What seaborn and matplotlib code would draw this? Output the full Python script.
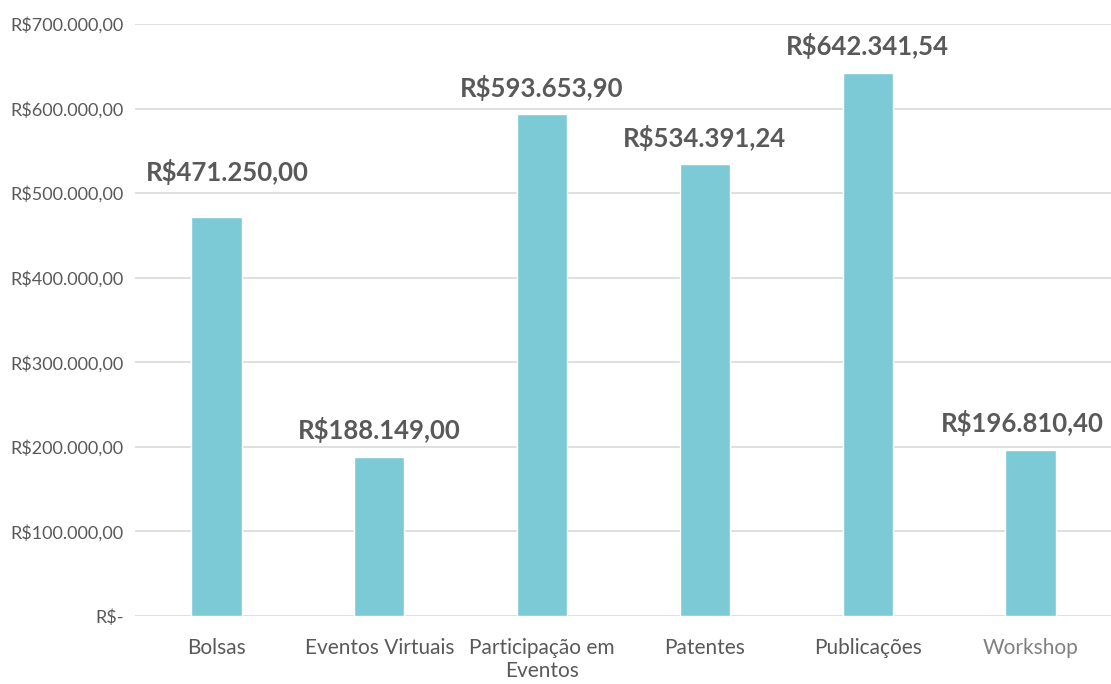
import pandas as pd
import matplotlib.pyplot as plt
import seaborn as sns
from matplotlib.ticker import FuncFormatter

categorias = ["Bolsas", "Eventos Virtuais", "Participação em\nEventos", "Patentes", "Publicações", "Workshop"]
valores = [471250.00, 188149.00, 593653.90, 534391.24, 642341.54, 196810.40]
yticks = [0, 100000, 200000, 300000, 400000, 500000, 600000, 700000]


def brl(v, pos=None):
    if v == 0:
        return "R$-"
    s = f"{v:,.2f}"
    return "R$" + s.replace(",", "X").replace(".", ",").replace("X", ".")


def main():
    df = pd.DataFrame({"categoria": categorias, "valor": valores})

    sns.set_style("white")
    plt.rcParams["font.family"] = ["Lato", "DejaVu Sans"]

    fig = plt.figure(figsize=(11.11, 6.84), dpi=100)
    ax = fig.add_axes([135 / 1111, 68 / 684, (1112 - 135) / 1111, (616 - 24) / 684])

    sns.barplot(data=df, x="categoria", y="valor", color="#7ccad6", width=0.31,
                saturation=1, ax=ax, zorder=3)

    ax.set_ylim(0, 700000)
    ax.set_xlim(-0.5, len(categorias) - 0.5)
    ax.set_yticks(yticks)
    ax.yaxis.set_major_formatter(FuncFormatter(brl))
    ax.grid(axis="y", color="#d9d9d9", linewidth=1.2, zorder=0)
    ax.set_xlabel("")
    ax.set_ylabel("")
    for s in ["top", "right", "left", "bottom"]:
        ax.spines[s].set_visible(False)
    ax.tick_params(axis="y", length=0, pad=8, labelsize=13, labelcolor="#595959")
    ax.tick_params(axis="x", length=0, pad=16, labelsize=15, labelcolor="#595959")
    ax.get_xticklabels()[-1].set_color("#808080")

    # ajustes finos dos rótulos (Bolsas mais alto, Workshop puxado p/ esquerda)
    desloc = {0: (8, 14), 5: (-6, 0)}
    for i, v in enumerate(valores):
        dx, dy = desloc.get(i, (0, 0))
        ax.annotate(brl(v), (i, v), xytext=(dx, 19 + dy), textcoords="offset points",
                    ha="center", va="center", fontsize=18.5, fontweight="bold",
                    color="#595959")

    fig.savefig("out.png", dpi=100)


if __name__ == "__main__":
    main()
